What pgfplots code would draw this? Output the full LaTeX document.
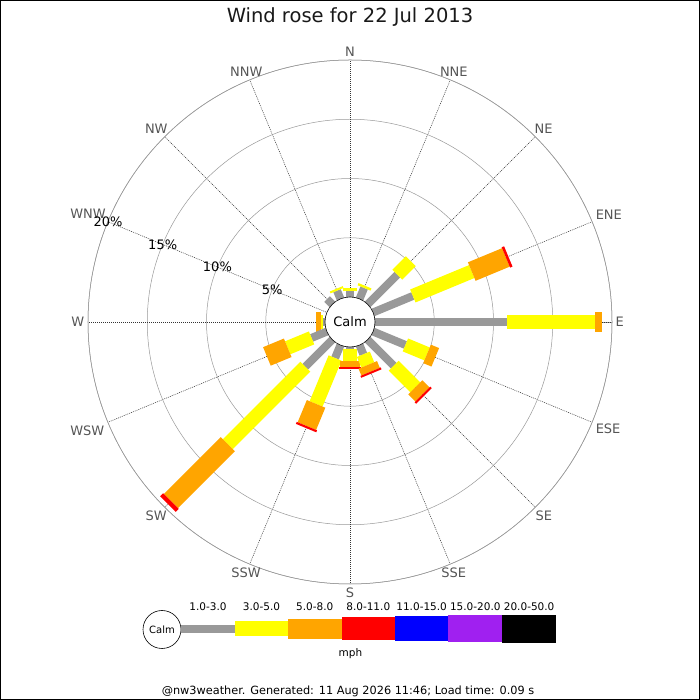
\documentclass[border=0pt]{standalone}
\usepackage{fontspec}
\setmainfont{DejaVu Sans}
\usepackage{pgfplots}
\usepgfplotslibrary{polar}
\pgfplotsset{compat=1.18}
\definecolor{wgray}{RGB}{153,153,153}
\definecolor{wyellow}{RGB}{255,255,0}
\definecolor{worange}{RGB}{255,165,0}
\definecolor{wred}{RGB}{255,0,0}
\definecolor{wblue}{RGB}{0,0,255}
\definecolor{wpurple}{RGB}{160,32,240}
\definecolor{labgray}{RGB}{85,85,85}
\begin{document}
\begin{tikzpicture}[
  gseg/.style={draw=wgray, line width=8pt},
  yseg/.style={draw=wyellow, line width=14pt},
  oseg/.style={draw=worange, line width=20pt},
  rseg/.style={draw=wred, line width=22pt},
  dlab/.style={font=\fontsize{13}{15}\selectfont, text=labgray, inner sep=3.5pt},
  rlab/.style={font=\fontsize{13}{15}\selectfont, text=black, inner sep=0pt},
]
\useasboundingbox (0pt,0pt) rectangle (700pt,700pt);
\fill[white] (0pt,0pt) rectangle (700pt,700pt);
\draw[black, line width=1pt] (0.5pt,0.5pt) rectangle (699.5pt,699.5pt);
\node[font=\fontsize{19.5}{22}\selectfont, text=black!90] at (350pt,683pt) {Wind rose for 22 Jul 2013};
\begin{polaraxis}[
  at={(350pt,378pt)}, anchor=center,
  scale only axis, width=524pt, height=524pt,
  xmin=0, xmax=360, ymin=0, ymax=22.11,
  xtick={22.5,45,67.5,112.5,135,157.5,202.5,225,247.5,292.5,315,337.5}, xticklabels={},
  extra x ticks={0,90,180,270},
  extra x tick style={xticklabels={}, major grid style={black!75, line width=0.5pt, dash pattern=on 1.6pt off 1pt}},
  ytick={7.11,12.11,17.11,22.11}, yticklabels={},
  major tick length=0pt,
  xmajorgrids, ymajorgrids,
  x grid style={black!80, line width=0.5pt, dash pattern=on 1pt off 1pt},
  y grid style={black!40, line width=0.5pt},
  axis line style={black!40, line width=0.5pt},
  y filter/.expression={y+2.11},
  no markers, clip=false,
]
% E
\addplot[gseg] coordinates {(0,0) (0,11.16)};
\addplot[yseg] coordinates {(0,11.16) (0,18.57)};
\addplot[oseg] coordinates {(0,18.57) (0,19.13)};
% ENE
\addplot[gseg] coordinates {(22.5,0) (22.5,3.63)};
\addplot[yseg] coordinates {(22.5,3.63) (22.5,9.01)};
\addplot[oseg] coordinates {(22.5,9.01) (22.5,12.13)};
\addplot[rseg] coordinates {(22.5,12.13) (22.5,12.35)};
% NE
\addplot[gseg] coordinates {(45,0) (45,3.54)};
\addplot[yseg] coordinates {(45,3.54) (45,5.15)};
% NNE
\addplot[gseg] coordinates {(67.5,0) (67.5,1.00)};
\addplot[yseg] coordinates {(67.5,1.00) (67.5,1.20)};
% N
\addplot[gseg] coordinates {(90,0) (90,0.48)};
\addplot[yseg] coordinates {(90,0.48) (90,0.72)};
% NNW
\addplot[gseg] coordinates {(112.5,0) (112.5,0.75)};
\addplot[yseg] coordinates {(112.5,0.75) (112.5,0.92)};
% NW
\addplot[gseg] coordinates {(135,0) (135,0.62)};
% W
\addplot[gseg] coordinates {(180,0) (180,0.19)};
\addplot[yseg] coordinates {(180,0.19) (180,0.36)};
\addplot[oseg] coordinates {(180,0.36) (180,0.76)};
% WSW
\addplot[gseg] coordinates {(202.5,0) (202.5,1.40)};
\addplot[yseg] coordinates {(202.5,1.40) (202.5,3.58)};
\addplot[oseg] coordinates {(202.5,3.58) (202.5,5.48)};
% SW
\addplot[gseg] coordinates {(225,0) (225,3.22)};
\addplot[yseg] coordinates {(225,3.22) (225,12.47)};
\addplot[oseg] coordinates {(225,12.47) (225,19.26)};
\addplot[rseg] coordinates {(225,19.26) (225,19.62)};
% SSW
\addplot[gseg] coordinates {(247.5,0) (247.5,1.18)};
\addplot[yseg] coordinates {(247.5,1.18) (247.5,5.37)};
\addplot[oseg] coordinates {(247.5,5.37) (247.5,7.40)};
\addplot[rseg] coordinates {(247.5,7.40) (247.5,7.58)};
% S
\addplot[gseg] coordinates {(270,0) (270,0.20)};
\addplot[yseg] coordinates {(270,0.20) (270,1.18)};
\addplot[oseg] coordinates {(270,1.18) (270,1.72)};
\addplot[rseg] coordinates {(270,1.72) (270,1.88)};
% SSE
\addplot[gseg] coordinates {(292.5,0) (292.5,0.84)};
\addplot[yseg] coordinates {(292.5,0.84) (292.5,1.81)};
\addplot[oseg] coordinates {(292.5,1.81) (292.5,2.43)};
\addplot[rseg] coordinates {(292.5,2.43) (292.5,2.60)};
% SE
\addplot[gseg] coordinates {(315,0) (315,3.11)};
\addplot[yseg] coordinates {(315,3.11) (315,5.69)};
\addplot[oseg] coordinates {(315,5.69) (315,6.54)};
\addplot[rseg] coordinates {(315,6.54) (315,6.72)};
% ESE
\addplot[gseg] coordinates {(337.5,0) (337.5,2.95)};
\addplot[yseg] coordinates {(337.5,2.95) (337.5,4.93)};
\addplot[oseg] coordinates {(337.5,4.93) (337.5,5.68)};
% calm circle
\draw[black, fill=white, line width=0.6pt] (axis cs:0,0) circle[radius=25pt];
\node[font=\fontsize{13}{15}\selectfont] at (axis cs:0,0) {Calm};
% direction labels
\node[dlab, anchor=180]   at (axis cs:0,22.11) {E};
\node[dlab, anchor=202.5] at (axis cs:22.5,22.11) {ENE};
\node[dlab, anchor=225]   at (axis cs:45,22.11) {NE};
\node[dlab, anchor=247.5] at (axis cs:67.5,22.11) {NNE};
\node[dlab, anchor=270]   at (axis cs:90,22.11) {N};
\node[dlab, anchor=292.5] at (axis cs:112.5,22.11) {NNW};
\node[dlab, anchor=315]   at (axis cs:135,22.11) {NW};
\node[dlab, anchor=337.5] at (axis cs:157.5,22.11) {WNW};
\node[dlab, anchor=0]     at (axis cs:180,22.11) {W};
\node[dlab, anchor=22.5]  at (axis cs:202.5,22.11) {WSW};
\node[dlab, anchor=45]    at (axis cs:225,22.11) {SW};
\node[dlab, anchor=67.5]  at (axis cs:247.5,22.11) {SSW};
\node[dlab, anchor=90]    at (axis cs:270,22.11) {S};
\node[dlab, anchor=112.5] at (axis cs:292.5,22.11) {SSE};
\node[dlab, anchor=135]   at (axis cs:315,22.11) {SE};
\node[dlab, anchor=157.5] at (axis cs:337.5,22.11) {ESE};
% ring labels
\node[rlab] at (axis cs:157.5,7.11) {5\%};
\node[rlab] at (axis cs:157.5,12.11) {10\%};
\node[rlab] at (axis cs:157.5,17.11) {15\%};
\node[rlab] at (axis cs:157.5,22.11) {20\%};
\end{polaraxis}
% legend
\draw[black, fill=white, line width=0.6pt] (162pt,70.5pt) circle[radius=19pt];
\node[font=\fontsize{10}{12}\selectfont] at (162pt,70.5pt) {Calm};
\fill[wgray]   (181pt,66.9pt) rectangle (235pt,75.1pt);
\fill[wyellow] (235pt,63.5pt) rectangle (288pt,78.5pt);
\fill[worange] (288pt,61pt) rectangle (341.5pt,81pt);
\fill[wred]    (341.5pt,59.5pt) rectangle (395pt,82.5pt);
\fill[wblue]   (395pt,58.5pt) rectangle (448.3pt,83.5pt);
\fill[wpurple] (448.3pt,57.5pt) rectangle (502.3pt,84.5pt);
\fill[black]   (502.3pt,57pt) rectangle (556pt,85pt);
\begin{scope}[every node/.style={font=\fontsize{10.5}{12}\selectfont}]
\node at (208pt,93pt) {1.0-3.0};
\node at (261.5pt,93pt) {3.0-5.0};
\node at (314.75pt,93pt) {5.0-8.0};
\node at (368.25pt,93pt) {8.0-11.0};
\node at (421.65pt,93pt) {11.0-15.0};
\node at (475.3pt,93pt) {15.0-20.0};
\node at (529.15pt,93pt) {20.0-50.0};
\node at (350.5pt,46pt) {mph};
\end{scope}
\node[font=\fontsize{11.3}{13}\selectfont] at (348pt,8.5pt) {@nw3weather. Generated: 11 Aug 2026 11:46; Load time: 0.09 s};
\end{tikzpicture}
\end{document}
